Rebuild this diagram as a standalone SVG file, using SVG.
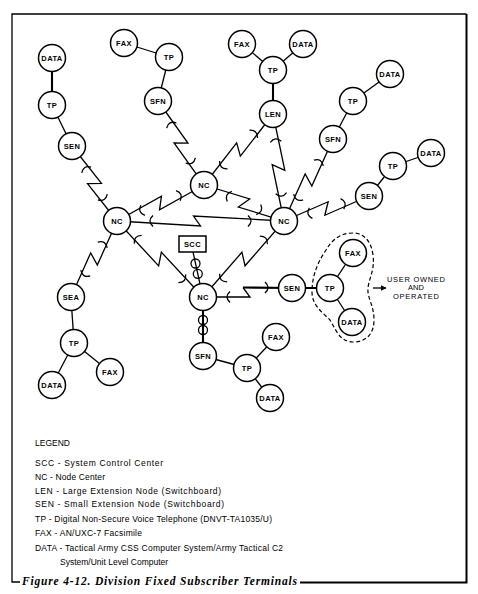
<svg xmlns="http://www.w3.org/2000/svg" xmlns:xlink="http://www.w3.org/1999/xlink" width="478" height="594" viewBox="0 0 478 594">
<style>
.ln{stroke:#000;stroke-width:1.3;fill:none;stroke-linejoin:miter}
.thick{stroke-width:2.1}
.n circle{fill:#fff;stroke:#000;stroke-width:1.5}
.n text,.box text{font-family:"Liberation Sans",Arial,sans-serif;font-size:7.5px;font-weight:bold;text-anchor:middle;letter-spacing:0.4px;fill:#000}
.leg{font-family:"Liberation Sans",Arial,sans-serif;font-size:8.5px;fill:#000}
.note{font-family:"Liberation Sans",Arial,sans-serif;font-size:7.5px;fill:#000;text-anchor:middle}
.cap{font-family:"Liberation Serif","Times New Roman",serif;font-size:11.5px;font-weight:bold;font-style:italic;fill:#000}
.frame{stroke:#000;stroke-width:1.3;fill:none}
</style>
<defs>
<path id="ta" d="M3,-5.5 Q-3,0 3,5.5"/>
<path id="tb" d="M-3,-5.5 Q3,0 -3,5.5"/>
<marker id="ah" viewBox="0 0 10 10" refX="9" refY="5" markerWidth="6" markerHeight="6" orient="auto" markerUnits="userSpaceOnUse"><path d="M0,0 L10,5 L0,10 z" fill="#000"/></marker>
</defs>
<rect width="478" height="594" fill="#fff"/>

<g id="frame" class="frame">
<path d="M20,582 L12,582 L12,14 L466.5,14"/>
<path d="M300,582.5 L466.5,582.5 L466.5,14" stroke-width="2"/>
</g>

<g id="connectors" class="ln">
<!-- plain wire links -->
<line class="thick" x1="52" y1="58" x2="52" y2="105"/>
<line x1="52" y1="105" x2="72" y2="146"/>
<line x1="124" y1="43" x2="169" y2="57"/>
<line x1="169" y1="57" x2="158" y2="101"/>
<line x1="242" y1="44" x2="273" y2="70"/>
<line x1="303" y1="44" x2="273" y2="70"/>
<line class="thick" x1="273" y1="70" x2="273" y2="114"/>
<line x1="390" y1="74" x2="353" y2="101"/>
<line x1="353" y1="101" x2="333" y2="139"/>
<line x1="431" y1="153" x2="393" y2="166"/>
<line x1="393" y1="166" x2="369" y2="196"/>
<line x1="71" y1="297" x2="74" y2="343"/>
<line x1="74" y1="343" x2="110" y2="372"/>
<line x1="74" y1="343" x2="52" y2="385"/>
<line class="thick" x1="292" y1="288" x2="330" y2="288"/>
<line x1="330" y1="288" x2="353" y2="253"/>
<line x1="330" y1="288" x2="352" y2="322"/>
<line x1="203" y1="356" x2="247" y2="368"/>
<line x1="247" y1="368" x2="276" y2="337"/>
<line x1="247" y1="368" x2="270" y2="398"/>

<!-- cable links -->
<line x1="193" y1="252" x2="200" y2="284"/>
<circle cx="195.5" cy="263.5" r="4.5"/>
<circle cx="197.8" cy="273.8" r="4.5"/>
<line class="thick" x1="203" y1="297" x2="203" y2="356"/>
<circle cx="203" cy="320" r="4.5"/>
<circle cx="203" cy="330" r="4.5"/>

<!-- radio links -->
<g transform="translate(72 146) rotate(59.04)"><path d="M0,0 L47.23,-6 L40.23,6 L87.46,0"/><use xlink:href="#ta" x="25"/><use xlink:href="#tb" x="62.46"/></g>
<g transform="translate(158 101) rotate(61.29)"><path d="M0,0 L51.39,-6 L44.39,6 L95.77,0"/><use xlink:href="#ta" x="25"/><use xlink:href="#tb" x="70.77"/></g>
<g transform="translate(273 114) rotate(134.18)"><path d="M0,0 L53,-6 L46,6 L99,0"/><use xlink:href="#ta" x="25"/><use xlink:href="#tb" x="74"/></g>
<g transform="translate(117 221) rotate(-22.48)"><path d="M0,0 L50.58,-6 L43.58,6 L94.15,0"/><use xlink:href="#ta" x="25"/><use xlink:href="#tb" x="69.15"/></g>
<g transform="translate(204 185) rotate(24.23)"><path d="M0,0 L47.37,-6 L40.37,6 L87.73,0"/><use xlink:href="#ta" x="25"/><use xlink:href="#tb" x="62.73"/></g>
<g transform="translate(117 221)"><path d="M0,0 L83.5,5 L76.5,-5 L167,0"/><use xlink:href="#ta" x="33"/><use xlink:href="#tb" x="134"/></g>
<g transform="translate(273 114) rotate(84.13)"><path d="M0,0 L57.28,-6 L50.28,6 L107.56,0"/><use xlink:href="#ta" x="25"/><use xlink:href="#tb" x="82.56"/></g>
<g transform="translate(333 139) rotate(120.86)"><path d="M0,0 L51.26,-6 L44.26,6 L95.52,0"/><use xlink:href="#ta" x="25"/><use xlink:href="#tb" x="70.52"/></g>
<g transform="translate(369 196) rotate(163.61)"><path d="M0,0 L47.8,-6 L40.8,6 L88.6,0"/><use xlink:href="#ta" x="25"/><use xlink:href="#tb" x="63.6"/></g>
<g transform="translate(117 221) rotate(121.19)"><path d="M0,0 L47.92,-6 L40.92,6 L88.84,0"/><use xlink:href="#ta" x="25"/><use xlink:href="#tb" x="63.84"/></g>
<g transform="translate(117 221) rotate(41.47)"><path d="M0,0 L60.89,6 L53.89,-6 L114.77,0"/><use xlink:href="#ta" x="25"/><use xlink:href="#tb" x="89.77"/></g>
<g transform="translate(284 221) rotate(136.83)"><path d="M0,0 L59.04,-6 L52.04,6 L111.07,0"/><use xlink:href="#ta" x="25"/><use xlink:href="#tb" x="86.07"/></g>
<path d="M203,297 L250,297 L243,287.5"/>
<path class="thick" d="M243,287.5 L292,288"/>
<path d="M230,291.5 Q224,297 230,302.5"/>
<path d="M265,282 Q271,287.5 265,293"/>
</g>

<g id="user-owned">
<path d="M353,233 C340,233 332,240 326,250 C318,262 312,275 312,292 C312,305 322,312 330,320 C336,330 340,342 353,342 C366,342 374,334 374,320 C374,305 367,298 368,288 C369,278 375,270 373,255 C371,240 363,233 353,233 Z" fill="none" stroke="#000" stroke-width="1.2" stroke-dasharray="4 2.5"/>
<line x1="373" y1="288" x2="386" y2="288" stroke="#000" stroke-width="1.3" marker-end="url(#ah)"/>
<text class="note" x="416" y="281.5" textLength="58" lengthAdjust="spacing">USER OWNED</text>
<text class="note" x="416" y="290">AND</text>
<text class="note" x="416" y="298.5" textLength="46" lengthAdjust="spacing">OPERATED</text>
</g>

<g id="scc" class="box"><rect x="179" y="236" width="27" height="16" fill="#fff" stroke="#000" stroke-width="1.5"/><text x="192.5" y="246.7">SCC</text></g>

<g id="nc-left" class="n"><circle cx="117" cy="221" r="13.5"/><text x="117" y="223.7">NC</text></g>
<g id="nc-top" class="n"><circle cx="204" cy="185" r="13.5"/><text x="204" y="187.7">NC</text></g>
<g id="nc-right" class="n"><circle cx="284" cy="221" r="13.5"/><text x="284" y="223.7">NC</text></g>
<g id="nc-bottom" class="n"><circle cx="203" cy="297" r="13.5"/><text x="203" y="299.7">NC</text></g>

<g id="sen1" class="n"><circle cx="72" cy="146" r="13.5"/><text x="72" y="148.7">SEN</text></g>
<g id="tp1" class="n"><circle cx="52" cy="105" r="13.5"/><text x="52" y="107.7">TP</text></g>
<g id="data1" class="n"><circle cx="52" cy="58" r="13.5"/><text x="52" y="60.7">DATA</text></g>

<g id="sen2" class="n"><circle cx="158" cy="101" r="13.5"/><text x="158" y="103.7">SFN</text></g>
<g id="tp2" class="n"><circle cx="169" cy="57" r="13.5"/><text x="169" y="59.7">TP</text></g>
<g id="fax2" class="n"><circle cx="124" cy="43" r="13.5"/><text x="124" y="45.7">FAX</text></g>

<g id="len" class="n"><circle cx="273" cy="114" r="13.5"/><text x="273" y="116.7">LEN</text></g>
<g id="tp3" class="n"><circle cx="273" cy="70" r="13.5"/><text x="273" y="72.7">TP</text></g>
<g id="fax3" class="n"><circle cx="242" cy="44" r="13.5"/><text x="242" y="46.7">FAX</text></g>
<g id="data3" class="n"><circle cx="303" cy="44" r="13.5"/><text x="303" y="46.7">DATA</text></g>

<g id="sen4" class="n"><circle cx="333" cy="139" r="13.5"/><text x="333" y="141.7">SFN</text></g>
<g id="tp4" class="n"><circle cx="353" cy="101" r="13.5"/><text x="353" y="103.7">TP</text></g>
<g id="data4" class="n"><circle cx="390" cy="74" r="13.5"/><text x="390" y="76.7">DATA</text></g>

<g id="sen5" class="n"><circle cx="369" cy="196" r="13.5"/><text x="369" y="198.7">SEN</text></g>
<g id="tp5" class="n"><circle cx="393" cy="166" r="13.5"/><text x="393" y="168.7">TP</text></g>
<g id="data5" class="n"><circle cx="431" cy="153" r="13.5"/><text x="431" y="155.7">DATA</text></g>

<g id="sea" class="n"><circle cx="71" cy="297" r="13.5"/><text x="71" y="299.7">SEA</text></g>
<g id="tp6" class="n"><circle cx="74" cy="343" r="13.5"/><text x="74" y="345.7">TP</text></g>
<g id="fax6" class="n"><circle cx="110" cy="372" r="13.5"/><text x="110" y="374.7">FAX</text></g>
<g id="data6" class="n"><circle cx="52" cy="385" r="13.5"/><text x="52" y="387.7">DATA</text></g>

<g id="sen7" class="n"><circle cx="292" cy="288" r="13.5"/><text x="292" y="290.7">SEN</text></g>
<g id="tp7" class="n"><circle cx="330" cy="288" r="13.5"/><text x="330" y="290.7">TP</text></g>
<g id="fax7" class="n"><circle cx="353" cy="253" r="13.5"/><text x="353" y="255.7">FAX</text></g>
<g id="data7" class="n"><circle cx="352" cy="322" r="13.5"/><text x="352" y="324.7">DATA</text></g>

<g id="sfn8" class="n"><circle cx="203" cy="356" r="13.5"/><text x="203" y="358.7">SFN</text></g>
<g id="tp8" class="n"><circle cx="247" cy="368" r="13.5"/><text x="247" y="370.7">TP</text></g>
<g id="fax8" class="n"><circle cx="276" cy="337" r="13.5"/><text x="276" y="339.7">FAX</text></g>
<g id="data8" class="n"><circle cx="270" cy="398" r="13.5"/><text x="270" y="400.7">DATA</text></g>

<g id="legend">
<text class="leg" x="35" y="446" font-size="7.5">LEGEND</text>
<text class="leg" x="35" y="466" textLength="128" lengthAdjust="spacing">SCC - System Control Center</text>
<text class="leg" x="35" y="480" textLength="70" lengthAdjust="spacing">NC - Node Center</text>
<text class="leg" x="35" y="494" textLength="186" lengthAdjust="spacing">LEN - Large Extension Node (Switchboard)</text>
<text class="leg" x="35" y="507" textLength="189" lengthAdjust="spacing">SEN - Small Extension Node (Switchboard)</text>
<text class="leg" x="35" y="522" textLength="237" lengthAdjust="spacing">TP - Digital Non-Secure Voice Telephone (DNVT-TA1035/U)</text>
<text class="leg" x="35" y="536" textLength="107" lengthAdjust="spacing">FAX - AN/UXC-7 Facsimile</text>
<text class="leg" x="35" y="551" textLength="248" lengthAdjust="spacing">DATA - Tactical Army CSS Computer System/Army Tactical C2</text>
<text class="leg" x="60" y="565">System/Unit Level Computer</text>
</g>

<text class="cap" x="22" y="585" textLength="275" lengthAdjust="spacing">Figure 4-12. Division Fixed Subscriber Terminals</text>
</svg>
